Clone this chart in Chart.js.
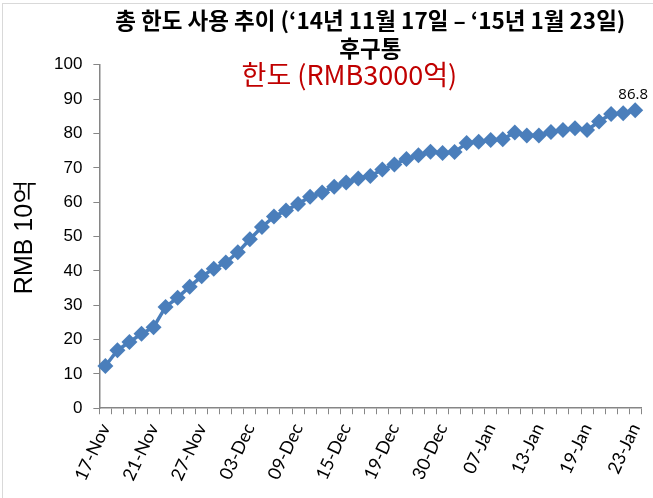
<!DOCTYPE html>
<html>
<head>
<meta charset="utf-8">
<script src="https://cdn.jsdelivr.net/npm/chart.js@4.4.1/dist/chart.umd.min.js"></script>
<style>
body{margin:0;background:#fff;}
#cornice{width:653px;height:498px;overflow:hidden;}
#contenitore{width:661px;height:498px;position:relative;}
</style>
</head>
<body>
<div id="cornice"><div id="contenitore"><canvas id="grafico-limite"></canvas></div></div>
<script>
// giorni di contrattazione (etichette asse x)
var giorni = ['17-Nov', '18-Nov', '19-Nov', '20-Nov', '21-Nov', '24-Nov', '25-Nov', '26-Nov', '27-Nov', '28-Nov',
    '01-Dec', '02-Dec', '03-Dec', '04-Dec', '05-Dec', '08-Dec', '09-Dec', '10-Dec', '11-Dec', '12-Dec',
    '15-Dec', '16-Dec', '17-Dec', '18-Dec', '19-Dec', '22-Dec', '23-Dec', '29-Dec', '30-Dec', '31-Dec',
    '05-Jan', '06-Jan', '07-Jan', '08-Jan', '09-Jan', '12-Jan', '13-Jan', '14-Jan', '15-Jan', '16-Jan',
    '19-Jan', '20-Jan', '21-Jan', '22-Jan', '23-Jan'];

// utilizzo cumulato del limite (RMB 10억)
var utilizzo = [12.3, 16.9, 19.3, 21.7, 23.6, 29.5, 32.2, 35.4, 38.4, 40.6,
    42.4, 45.4, 49.2, 52.8, 55.8, 57.6, 59.5, 61.6, 62.8, 64.5,
    65.7, 66.9, 67.6, 69.5, 71.0, 72.6, 73.7, 74.7, 74.3, 74.6,
    77.2, 77.6, 78.1, 78.3, 80.3, 79.4, 79.4, 80.4, 81.0, 81.5,
    81.0, 83.5, 85.7, 85.9, 86.8];

var ogniQuanti = 4; // un'etichetta ogni 4 giorni
var titolo = ['총 한도 사용 추이 (‘14년 11월 17일 – ‘15년 1월 23일)', '후구통'];
var sottotitolo = '한도 (RMB3000억)';
var titoloAsseY = 'RMB 10억';

var blu = '#4a7ebb';
var grigio = '#868686';

// scrive il valore sopra l'ultimo punto e il testo rosso del limite
var testiExtra = {
    id: 'testiExtra',
    beforeDraw: function(chart){
        var ctx = chart.ctx;
        ctx.save();
        ctx.strokeStyle = '#d9d9d9';
        ctx.lineWidth = 1;
        ctx.strokeRect(2.5, 3.5, chart.width, chart.height);
        ctx.restore();
    },
    afterDatasetsDraw: function(chart){
        var ctx = chart.ctx;
        var area = chart.chartArea;
        var meta = chart.getDatasetMeta(0);
        var ultimo = meta.data[meta.data.length - 1];
        ctx.save();
        ctx.fillStyle = '#000';
        ctx.font = '15px "Open Sans", sans-serif';
        ctx.textAlign = 'center';
        ctx.textBaseline = 'bottom';
        ctx.fillText(utilizzo[utilizzo.length - 1].toFixed(1), ultimo.x - 2, ultimo.y - 8);

        ctx.fillStyle = '#c00000';
        ctx.font = '27px "Noto Sans CJK KR", sans-serif';
        ctx.textBaseline = 'middle';
        ctx.fillText(sottotitolo, area.left + 250, area.top + 10);
        ctx.restore();
    }
};

var ctx = document.getElementById('grafico-limite');
var chart = new Chart(ctx, {
    type: 'line',
    data: {
        labels: giorni,
        datasets: [{
            data: utilizzo,
            borderColor: blu,
            backgroundColor: blu,
            borderWidth: 3.5,
            pointStyle: 'rectRot',
            pointRadius: 8,
            pointBorderWidth: 0,
            pointBackgroundColor: blu,
            tension: 0
        }]
    },
    options: {
        responsive: true,
        maintainAspectRatio: false,
        animation: false,
        layout: {
            padding: {left: 10, right: 0, top: 7, bottom: 8}
        },
        plugins: {
            legend: {display: false},
            tooltip: {enabled: false},
            title: {
                display: true,
                text: titolo,
                fullSize: false,
                color: '#000',
                font: {family: '"Noto Sans CJK KR", sans-serif', size: 22.5, weight: 'bold', lineHeight: 1.24},
                padding: {top: 0, bottom: 2}
            }
        },
        scales: {
            x: {
                offset: true,
                grid: {
                    offset: true,
                    drawOnChartArea: false,
                    color: grigio,
                    tickLength: 6
                },
                border: {color: grigio, width: 1.5},
                ticks: {
                    autoSkip: false,
                    maxRotation: 65,
                    minRotation: 65,
                    color: '#000',
                    padding: 6,
                    font: {family: 'Lato, sans-serif', size: 18},
                    callback: function(valore, indice){
                        return indice % ogniQuanti === 0 ? giorni[indice] : '';
                    }
                }
            },
            y: {
                min: 0,
                max: 100,
                grid: {
                    drawOnChartArea: false,
                    color: grigio,
                    tickLength: 6
                },
                border: {color: grigio, width: 1.5},
                ticks: {
                    stepSize: 10,
                    color: '#000',
                    padding: 11,
                    font: {family: '"Liberation Sans", Arial, sans-serif', size: 17}
                },
                title: {
                    display: true,
                    text: titoloAsseY,
                    color: '#000',
                    font: {family: '"Liberation Sans", Arial, sans-serif', size: 25},
                    padding: {top: 0, bottom: 3}
                }
            }
        }
    },
    plugins: [testiExtra]
});
</script>
</body>
</html>
